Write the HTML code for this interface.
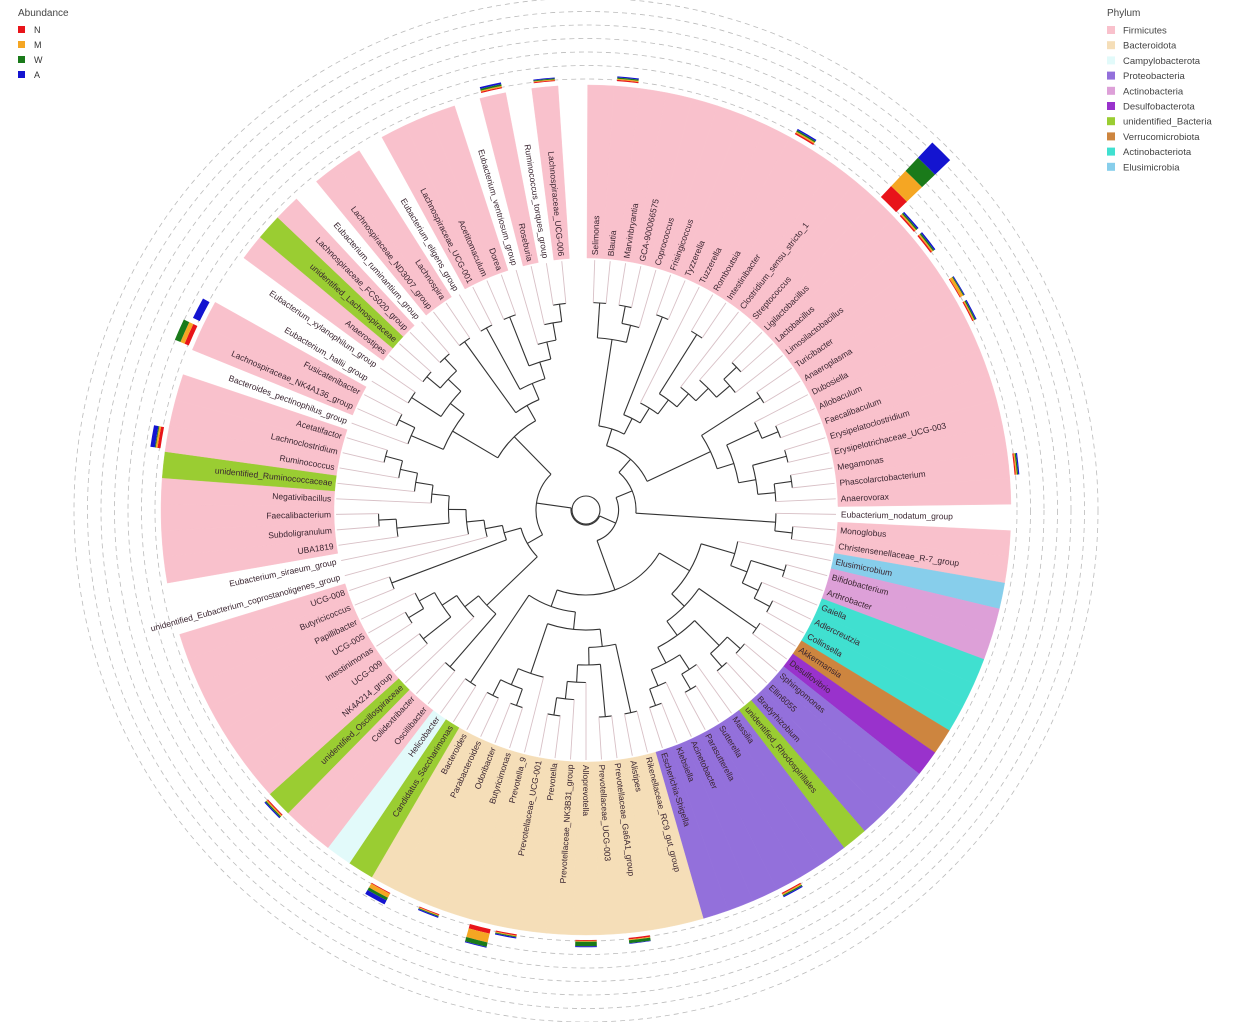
<!DOCTYPE html>
<html><head><meta charset="utf-8"><style>
html,body{margin:0;padding:0;background:#fff;}
svg{display:block;font-family:"Liberation Sans",sans-serif;}
</style></head><body>
<svg id="chart" width="1240" height="1022" viewBox="0 0 1240 1022">
<g id="rings"></g>
<g id="wedges"></g>
<g id="tree"></g>
<g id="labels"></g>
<g id="bars"></g>
<g id="legend-abundance">
 <text x="18" y="16" font-size="10" fill="#444">Abundance</text>
 <rect x="18" y="26" width="7" height="7" fill="#e8141a"/><text x="34" y="33" font-size="9" fill="#333">N</text>
 <rect x="18" y="41" width="7" height="7" fill="#f5a623"/><text x="34" y="48" font-size="9" fill="#333">M</text>
 <rect x="18" y="56" width="7" height="7" fill="#1a7a1a"/><text x="34" y="63" font-size="9" fill="#333">W</text>
 <rect x="18" y="71" width="7" height="7" fill="#1414d0"/><text x="34" y="78" font-size="9" fill="#333">A</text>
</g>
<g id="legend-phylum"></g>
</svg>
<script>
const NS="http://www.w3.org/2000/svg";
const leafNames=["Selimonas","Blautia","Marvinbryantia","GCA-900066575","Coprococcus","Frisingicoccus","Tyzzerella","Tuzzerella","Romboutsia","Intestinibacter","Clostridium_sensu_stricto_1","Streptococcus","Ligilactobacillus","Lactobacillus","Limosilactobacillus","Turicibacter","Anaeroplasma","Dubosiella","Allobaculum","Faecalibaculum","Erysipelatoclostridium","Erysipelotrichaceae_UCG-003","Megamonas","Phascolarctobacterium","Anaerovorax","Eubacterium_nodatum_group","Monoglobus","Christensenellaceae_R-7_group","Elusimicrobium","Bifidobacterium","Arthrobacter","Gaiella","Adlercreutzia","Collinsella","Akkermansia","Desulfovibrio","Sphingomonas","Ellin6055","Bradyrhizobium","unidentified_Rhodospirillales","Massilia","Sutterella","Parasutterella","Acinetobacter","Klebsiella","Escherichia-Shigella","Rikenellaceae_RC9_gut_group","Alistipes","Prevotellaceae_Ga6A1_group","Prevotellaceae_UCG-003","Alloprevotella","Prevotellaceae_NK3B31_group","Prevotella","Prevotellaceae_UCG-001","Prevotella_9","Butyricimonas","Odoribacter","Parabacteroides","Bacteroides","Candidatus_Saccharimonas","Helicobacter","Oscillibacter","Colidextribacter","unidentified_Oscillospiraceae","NK4A214_group","UCG-009","Intestinimonas","UCG-005","Papillibacter","Butyricicoccus","UCG-008","unidentified_Eubacterium_coprostanoligenes_group","Eubacterium_siraeum_group","UBA1819","Subdoligranulum","Faecalibacterium","Negativibacillus","unidentified_Ruminococcaceae","Ruminococcus","Lachnoclostridium","Acetatifactor","Bacteroides_pectinophilus_group","Lachnospiraceae_NK4A136_group","Fusicatenibacter","Eubacterium_hallii_group","Eubacterium_xylanophilum_group","Anaerostipes","unidentified_Lachnospiraceae","Lachnospiraceae_FCS020_group","Eubacterium_ruminantium_group","Lachnospiraceae_ND3007_group","Lachnospira","Eubacterium_eligens_group","Lachnospiraceae_UCG-001","Acetitomaculum","Dorea","Eubacterium_ventriosum_group","Roseburia","Ruminococcus_torques_group","Lachnospiraceae_UCG-006"];
// phylum index per leaf: 0 Firm,1 Bact,2 Campy,3 Proteo,4 Actinobacteria,5 Desulfo,6 unid,7 Verruco,8 Actinobacteriota,9 Elusi,-1 none
const leafPhylum=[0,0,0,0,0,0,0,0,0,0,0,0,0,0,0,0,0,0,0,0,0,0,0,0,0,-1,0,0,9,4,4,8,8,8,7,5,3,3,3,6,3,3,3,3,3,3,1,1,1,1,1,1,1,1,1,1,1,1,1,6,2,0,0,6,0,0,0,0,0,0,0,-1,-1,0,0,0,0,6,0,0,0,-1,0,0,-1,-1,0,6,0,-1,0,0,-1,0,0,0,-1,0,-1,0];
const phylumNames=["Firmicutes","Bacteroidota","Campylobacterota","Proteobacteria","Actinobacteria","Desulfobacterota","unidentified_Bacteria","Verrucomicrobiota","Actinobacteriota","Elusimicrobia"];
const phylumColors=["#f9c1cc","#f5deb8","#e2fafa","#9370db","#dda0d8","#9932cc","#9acd32","#cd853f","#40e0d0","#87ceeb"];
// abundance stacks
const abLeaf=[13,2,9,14,15,17,18,24,83,84,79,98,100,59,55,54,51,49,57,64,43];
const abN=[5,0.4,0.5,0.5,0.5,0.3,0.4,0.4,1.5,0,1,0.4,0.3,0.3,1.5,0.4,0.3,0.5,0.3,0.4,0.4];
const abM=[7,0.4,0.5,0.5,0.5,1,0.4,0.4,1.5,0,0.6,0.4,0.3,1.5,3,0.3,0.3,0.3,0.3,0.4,0.4];
const abW=[6,0.4,0.5,0.5,0.5,0.3,0.4,0.4,2,0,0.3,0.6,0.3,1,1.5,0.3,1.5,1,0.3,0.4,0.4];
const abA=[7,0.4,0.5,0.5,0.5,0.3,0.4,0.4,0,2.5,1.5,0.6,0.3,1.5,0.3,0.4,0.3,0.2,0.4,0.4,0.4];
const abColors=["#e8141a","#f5a623","#1a7a1a","#1414d0"];
// tree topology (leaf numbers 1..100)
const F1=[[[1,2],[[3,4],5]],[[6,7],[8,[[9,10],[11,[12,[[13,14],15]]]]]]];
const F2=[[16,17],[[18,[19,20]],[[21,22],[[23,24],25]]]];
const FR=[[F1,F2],[26,[27,28]]];
const OT=[[29,[[30,31],[32,[33,34]]]],[[35,36],[[[37,38],[39,40]],[[41,[42,43]],[44,[45,46]]]]]];
const BA=[[[47,48],[[49,50],[51,[52,[53,54]]]]],[55,[[56,57],[58,59]]]];
const DD=[60,61];
const EE=[[[62,63],[64,[[65,66],[[67,68],69]]]],[[70,71],[72,[73,[[74,[75,76]],[77,[78,[79,[80,81]]]]]]]]];
const LL=[[[82,[83,84]],[[85,86],[[87,88],[89,90]]]],[[91,92],[[93,94],[[95,96],[97,[98,[99,100]]]]]]];
const treeRoot=[[FR,[OT,[BA,DD]]],[EE,LL]];

const cx=586,cy=510,rTip=250,rLab=255,rIn=252,rOut=425,a0=2,step=3.56;
function ang(i){return a0+(i-1)*step;}
function pt(r,a){const t=a*Math.PI/180;return [cx+r*Math.sin(t),cy-r*Math.cos(t)];}
function el(tag,attrs,parent){const e=document.createElementNS(NS,tag);for(const k in attrs)e.setAttribute(k,attrs[k]);parent.appendChild(e);return e;}
function sector(r1,r2,aS,aE){const p1=pt(r2,aS),p2=pt(r2,aE),p3=pt(r1,aE),p4=pt(r1,aS);const lg=(aE-aS)>180?1:0;
 return `M${p1[0]} ${p1[1]}A${r2} ${r2} 0 ${lg} 1 ${p2[0]} ${p2[1]}L${p3[0]} ${p3[1]}A${r1} ${r1} 0 ${lg} 0 ${p4[0]} ${p4[1]}Z`;}

// dashed rings
const gR=document.getElementById('rings');
for(let k=0;k<7;k++){const c=el('circle',{cx:cx,cy:cy,r:431+k*13.5,fill:'none',stroke:'#bbb','stroke-width':0.8,'stroke-dasharray':'5 4'},gR);
 
 }

// wedges
const gW=document.getElementById('wedges');
leafNames.forEach((n,i)=>{const p=leafPhylum[i];if(p<0)return;const a=ang(i+1);
 const w=el('path',{d:sector(rIn,rOut,a-step/2,a+step/2),fill:phylumColors[p],stroke:phylumColors[p],'stroke-width':0.4},gW);
 
 });

// tree
const gT=document.getElementById('tree');
function height(n){return Array.isArray(n)?1+Math.max(...n.map(height)):0;}
const H=height(treeRoot);
function nodeR(n){const h=height(n);return h===0?rTip:15+(rTip-40)*(1-h/H);}
function nodeA(n){if(!Array.isArray(n))return ang(n);const as=n.map(nodeA);return (Math.min(...as)+Math.max(...as))/2;}
function draw(n){if(!Array.isArray(n))return;const r=nodeR(n);const as=n.map(nodeA);const aS=Math.min(...as),aE=Math.max(...as);
 const p1=pt(r,aS),p2=pt(r,aE);
 const arc=el('path',{d:`M${p1[0]} ${p1[1]}A${r} ${r} 0 ${(aE-aS)>180?1:0} 1 ${p2[0]} ${p2[1]}`,fill:'none',stroke:'#333','stroke-width':1.1},gT);
 
 
 n.forEach(c=>{const a=nodeA(c),rc=nodeR(c);const q1=pt(r,a),q2=pt(rc,a);const leaf=!Array.isArray(c);
  const ln=el('line',{x1:q1[0],y1:q1[1],x2:q2[0],y2:q2[1],stroke:leaf?'#d8c0c6':'#333','stroke-width':leaf?0.9:1.1},gT);
  
  
  draw(c);});}
draw(treeRoot);
const rc=el('circle',{cx:cx,cy:cy,r:14,fill:'none',stroke:'#333','stroke-width':1.1},gT);



// labels
const gL=document.getElementById('labels');
leafNames.forEach((n,i)=>{const a=ang(i+1);const p=pt(rLab,a);const left=a>180;
 const t=el('text',{x:p[0],y:p[1],'font-size':8.5,fill:'#3a2530','dominant-baseline':'central','text-anchor':left?'end':'start',transform:`rotate(${left?a+90:a-90} ${p[0]} ${p[1]})`},gL);
 t.textContent=n;
 
 });

// abundance bars
const gB=document.getElementById('bars');const sc=3;
abLeaf.forEach((lf,j)=>{const a=ang(lf);let r=430;const vals=[abN[j],abM[j],abW[j],abA[j]];
 vals.forEach((v,k)=>{if(v<=0)return;const len=v*sc;
  const s=el('path',{d:sector(r,r+len,a-step*0.4,a+step*0.4),fill:abColors[k]},gB);
  
  
  r+=len;});});

// phylum legend
const gP=document.getElementById('legend-phylum');
const tt=el('text',{x:1107,y:16,'font-size':10,fill:'#444'},gP);tt.textContent='Phylum';


phylumNames.forEach((n,i)=>{const y=26+i*15.2;
 const r=el('rect',{x:1107,y:y,width:8,height:8,fill:phylumColors[i]},gP);
 
 
 const t=el('text',{x:1123,y:y+7.5,'font-size':9.5,fill:'#444'},gP);t.textContent=n;
 
 });
</script>
</body></html>
